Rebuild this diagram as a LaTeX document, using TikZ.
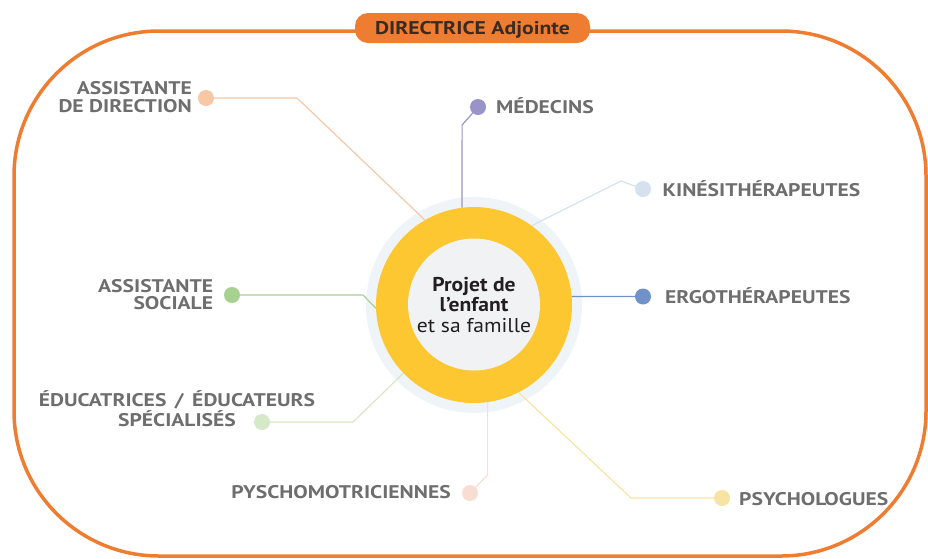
\documentclass[tikz,border=0pt]{standalone}
\usepackage{fontspec}
\setmainfont{PT Sans}[FakeStretch=1.18]
\newfontfamily\centerfont{PT Sans}[FakeStretch=1.08]
\definecolor{orangec}{HTML}{EE7D31}
\definecolor{pilltext}{HTML}{3A2A20}
\definecolor{labelgray}{HTML}{6E6E6E}
\definecolor{darktext}{HTML}{231F20}
\definecolor{ringc}{HTML}{EEF4F8}
\definecolor{yellowc}{HTML}{FDC731}
\definecolor{innerc}{HTML}{F1F2F4}
\definecolor{cpeach}{HTML}{F6C8A6}
\definecolor{cpurple}{HTML}{9893C8}
\definecolor{clblue}{HTML}{D6E1F0}
\definecolor{cblue}{HTML}{7092C9}
\definecolor{cgreen}{HTML}{A7D18E}
\definecolor{clgreen}{HTML}{D5E8C8}
\definecolor{cpink}{HTML}{F8DED2}
\definecolor{cyellow}{HTML}{F8E3A3}
\begin{document}
\begin{tikzpicture}[x=1pt,y=-1pt,
  frame/.style={draw=orangec, line width=3.5pt, rounded corners=145pt},
  pill/.style={fill=orangec, rounded corners=13pt, minimum width=235pt, minimum height=30pt,
    inner sep=0pt, text height=13pt, text depth=0pt, text=pilltext,
    font=\bfseries\fontsize{18.4}{18}\selectfont},
  dotnode/.style={circle, minimum size=16pt, inner sep=0pt, outer sep=0pt},
  conn/.style={line width=1.2pt},
  lbl/.style={inner sep=0pt, text=labelgray, font=\bfseries\fontsize{18.3}{17.7}\selectfont}
]
\useasboundingbox (0,0) rectangle (928,558);
\draw[frame] (14,31) rectangle (926,556);
\node[pill] (dir) at (472.5,28) {DIRECTRICE Adjointe};

% central target
\node[circle, fill=ringc, minimum size=216pt, inner sep=0pt, outer sep=0pt] (ring) at (474,305) {};
\node[circle, fill=yellowc, minimum size=196pt, inner sep=0pt, outer sep=0pt] (ctr) at (474,305) {};
\node[circle, fill=innerc, minimum size=132pt, inner sep=0pt, outer sep=0pt, align=center,
  text=darktext, font=\centerfont\fontsize{20}{20.5}\selectfont] (core) at (474,304.5)
  {\textbf{Projet de}\\\textbf{l’enfant}\\et sa famille};

% dots
\node[dotnode, fill=cpeach] (d1) at (206,98) {};
\node[dotnode, fill=cpurple] (d2) at (478,107) {};
\node[dotnode, fill=clblue] (d3) at (643,189) {};
\node[dotnode, fill=cblue] (d4) at (643,296.5) {};
\node[dotnode, fill=cgreen] (d5) at (232,295) {};
\node[dotnode, fill=clgreen] (d6) at (262,422) {};
\node[dotnode, fill=cpink] (d7) at (470,493) {};
\node[dotnode, fill=cyellow] (d8) at (722,498) {};

% bends
\coordinate (b1) at (297,98);
\coordinate (b2) at (462.1,125);
\coordinate (b3) at (621,181);
\coordinate (b5) at (363,295);
\coordinate (b6) at (353,422);
\coordinate (b7) at (487.6,475);
\coordinate (b8) at (631,498);

% connectors
\draw[conn, cpeach] (d1) -- (b1) -- (ctr.120);
\draw[conn, cpurple] (d2) -- (b2) -- (ctr.97);
\draw[conn, clblue] (d3) -- (b3) -- (ctr.54);
\draw[conn, cblue] (d4) -- (ctr.5);
\draw[conn, cgreen] (d5) -- (b5) -- (ctr.182);
\draw[conn, clgreen] (d6) -- (b6) -- (ctr.224);
\draw[conn, cpink] (d7) -- (b7) -- (ctr.278);
\draw[conn, cyellow] (d8) -- (b8) -- (ctr.297);

% labels
\node[lbl, anchor=east, align=right] (l1) at (192,97.2) {ASSISTANTE\\DE DIRECTION};
\node[lbl, anchor=base west] (l2) at (496,113) {MÉDECINS};
\node[lbl, anchor=base west] (l3) at (662.5,196.5) {KINÉSITHÉRAPEUTES};
\node[lbl, anchor=base west] (l4) at (665,303.3) {ERGOTHÉRAPEUTES};
\node[lbl, anchor=east, align=right] (l5) at (213.3,294.5) {ASSISTANTE\\SOCIALE};
\node[lbl, align=center] (l6) at (177,408.5) {ÉDUCATRICES \,/\, ÉDUCATEURS\\SPÉCIALISÉS};
\node[lbl, anchor=base east] (l7) at (451,498.3) {PYSCHOMOTRICIENNES};
\node[lbl, anchor=base west] (l8) at (739,505) {PSYCHOLOGUES};
\end{tikzpicture}
\end{document}
